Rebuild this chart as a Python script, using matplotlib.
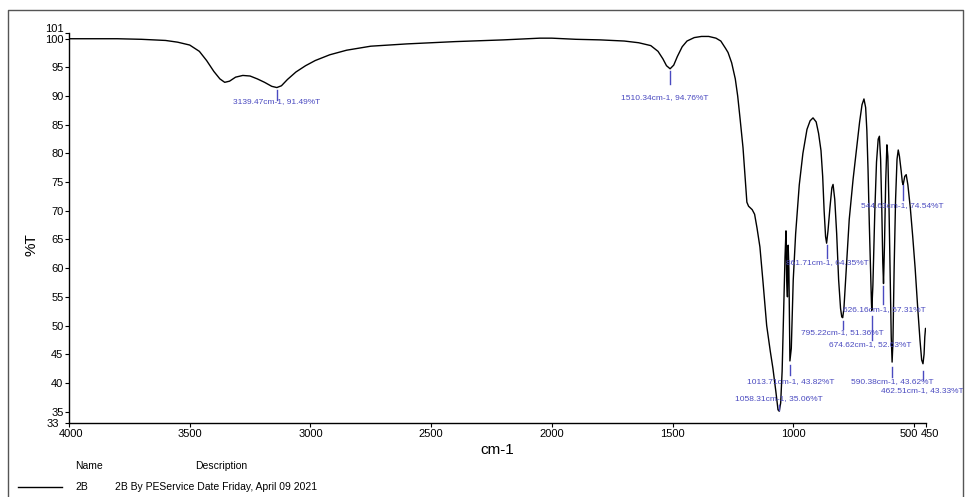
import matplotlib
matplotlib.use("Agg")
import matplotlib.pyplot as plt
import matplotlib.transforms as mtransforms
from matplotlib import font_manager
from matplotlib.lines import Line2D

# pick a narrow Arial-like face if present
names = {f.name for f in font_manager.fontManager.ttflist}
FONT = "Liberation Sans Narrow" if "Liberation Sans Narrow" in names else "Liberation Sans"
plt.rcParams["font.family"] = [FONT, "DejaVu Sans"]

# spectrum (wavenumber cm-1, %T)
wavenumber = [
    4000, 3800, 3700, 3600, 3550, 3500, 3460, 3430, 3400, 3375, 3355, 3335, 3310,
    3280, 3250, 3220, 3190, 3160, 3139, 3120, 3095, 3060, 3020, 2980, 2920, 2850,
    2750, 2600, 2400, 2200, 2050, 2000, 1900, 1800, 1700, 1640, 1590, 1560, 1540,
    1525, 1510, 1495, 1480, 1460, 1440, 1410, 1380, 1350, 1320, 1300, 1280, 1270,
    1255, 1240, 1230, 1220, 1208, 1198, 1192, 1185, 1170, 1160, 1150, 1138, 1125,
    1110, 1095, 1084, 1072, 1063, 1058, 1052, 1046, 1040, 1034, 1030, 1027, 1024,
    1021, 1018, 1013.7, 1008, 1000, 990, 975, 960, 943, 930, 918, 905, 895, 885,
    878, 872, 866, 861.7, 856, 848, 840, 835, 828, 820, 812, 804, 799, 795, 790,
    780, 768, 752, 740, 725, 715, 707, 700, 695, 690, 685, 680, 676, 674.6, 670,
    662, 655, 648, 643, 638, 633, 629, 626, 622, 617, 612, 608, 603, 598, 594,
    590.4, 587, 582, 576, 570, 565, 560, 553, 548, 544.6, 538, 532, 525, 515, 505,
    495, 485, 475, 468, 462.5, 458, 455, 452, 450,
]
transmittance = [
    100.0, 100.0, 99.9, 99.7, 99.4, 98.9, 97.8, 96.2, 94.3, 93.0, 92.4, 92.6, 93.3,
    93.6, 93.5, 93.0, 92.4, 91.7, 91.49, 91.8, 92.9, 94.2, 95.3, 96.2, 97.2, 98.0,
    98.7, 99.1, 99.5, 99.8, 100.1, 100.1, 99.9, 99.8, 99.6, 99.3, 98.8, 97.8, 96.5,
    95.3, 94.76, 95.4, 96.9, 98.6, 99.6, 100.2, 100.4, 100.4, 100.1, 99.6, 98.3, 97.6,
    95.8, 93.0, 90.0, 86.0, 81.0, 75.0, 71.5, 70.8, 70.2, 69.4, 67.0, 63.7, 57.5,
    50.0, 45.5, 42.5, 38.5, 35.3, 35.06, 36.5, 42.0, 52.0, 62.0, 66.5, 58.0, 55.0,
    64.0, 60.0, 43.82, 46.0, 57.9, 66.0, 74.5, 80.0, 84.2, 85.7, 86.2, 85.5, 83.5, 80.5,
    76.0, 70.0, 65.5, 64.35, 66.5, 70.5, 74.0, 74.6, 72.0, 66.0, 58.0, 53.0, 51.5, 51.36, 53.0,
    60.0, 68.5, 75.5, 80.0, 85.5, 88.5, 89.5, 88.0, 84.0, 77.0, 68.0, 60.0, 54.0, 52.63, 57.0,
    70.0, 78.5, 82.5, 83.0, 79.0, 70.0, 61.0, 57.31, 64.0, 75.0, 81.5, 79.5, 70.0, 58.0, 48.0,
    43.62, 47.0, 60.0, 72.0, 79.0, 80.6, 79.5, 77.0, 75.0, 74.54, 76.0, 76.3, 74.5, 70.5, 65.5,
    60.0, 53.5, 47.5, 44.0, 43.33, 45.0, 48.0, 49.5, 49.3,
]

# labelled minima
peak_wn = [3139.47, 1510.34, 861.71, 544.63, 626.16, 795.22, 674.62, 1013.71, 590.38, 462.51, 1058.31]
peak_t = [91.49, 94.76, 64.35, 74.54, 57.31, 51.36, 52.63, 43.82, 43.62, 43.33, 35.06]

xticks = [4000, 3500, 3000, 2500, 2000, 1500, 1000, 500, 450]
yticks = [101, 100, 95, 90, 85, 80, 75, 70, 65, 60, 55, 50, 45, 40, 35, 33]

# where each label text sits (data coords), layout only
label_pos = [(3138, 89.1), (1531, 89.8), (858, 60.9), (550, 71.0), (624, 52.7),
             (798, 48.7), (682, 46.6), (1009, 40.3), (591, 40.3), (467, 38.6), (1059, 37.2)]
tick_span = [(0.4, 2.1), (0.4, 2.6), (0.4, 2.6), (0.0, 2.6), (0.4, 3.5),
             (0.5, 1.9), (0.9, 5.2), (0.7, 2.4), (0.9, 2.6), (1.2, 2.9), (-1.0, -0.2)]

BLUE = "#4a4ac0"

fig = plt.figure(figsize=(9.65, 4.97), dpi=100)
ax = fig.add_axes([69 / 965, 1 - 423 / 497, (926 - 69) / 965, (423 - 33) / 497])

ax.plot(wavenumber, transmittance, color="black", lw=1.0)

for (w, t), (lx, ly), (a, b) in zip(zip(peak_wn, peak_t), label_pos, tick_span):
    ax.plot([w, w], [t - a, t - b], color=BLUE, lw=1.0)
    ax.text(lx, ly, f"{w:.2f}cm-1, {t:.2f}%T", color=BLUE, fontsize=6.0,
            ha="center", va="center")

ax.set_xlim(4000, 450)
ax.set_ylim(33, 101)
ax.set_xticks(xticks)
ax.set_xticklabels([str(v) for v in xticks])
ax.set_yticks(yticks)
ax.set_yticklabels([str(v) for v in yticks])
ax.tick_params(direction="out", length=3, width=0.8, labelsize=8, pad=1)
for s in ("top", "right"):
    ax.spines[s].set_visible(False)
for s in ("left", "bottom"):
    ax.spines[s].set_linewidth(1.0)

# nudge the crowded end labels apart, as in the original
def nudge(label, dx, dy):
    label.set_transform(label.get_transform() +
                        mtransforms.ScaledTranslation(dx / 100, dy / 100, fig.dpi_scale_trans))

ylabels = ax.get_yticklabels()
nudge(ylabels[0], 0, 5)
nudge(ylabels[-1], -4, 0)
xlabels = ax.get_xticklabels()
nudge(xlabels[0], 2, 0)
nudge(xlabels[-2], -5, 0)
nudge(xlabels[-1], 4, 0)

fig.text(497 / 965, 1 - 450 / 497, "cm-1", ha="center", va="center", fontsize=11)
fig.text(31 / 965, 1 - 245 / 497, "%T", ha="center", va="center", fontsize=11, rotation=90)

# legend block under the plot
fig.text(75 / 965, 1 - 466 / 497, "Name", fontsize=7.5, va="center")
fig.text(195 / 965, 1 - 466 / 497, "Description", fontsize=7.5, va="center")
fig.add_artist(Line2D([18 / 965, 62 / 965], [1 - 487 / 497] * 2, color="black", lw=1.0))
fig.text(75 / 965, 1 - 487 / 497, "2B", fontsize=7.5, va="center")
fig.text(115 / 965, 1 - 487 / 497, "2B By PEService Date Friday, April 09 2021", fontsize=7.5, va="center")

# outer frame of the screenshot
fx = [8 / 965, 8 / 965, 963 / 965, 963 / 965]
fy = [0, 1 - 10 / 497, 1 - 10 / 497, 0]
fig.add_artist(Line2D(fx, fy, color="#555555", lw=1.0))

fig.savefig("out.png", dpi=100)
